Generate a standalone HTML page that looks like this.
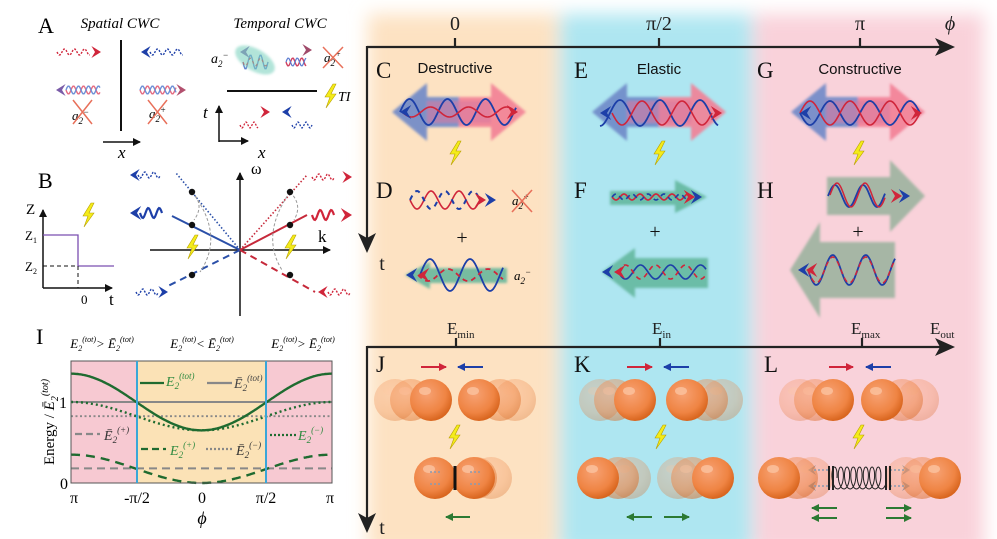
<!DOCTYPE html>
<html><head><meta charset="utf-8">
<style>
html,body{margin:0;padding:0;background:#fff;}
svg{display:block;font-family:"Liberation Serif",serif;}
.it{font-style:italic;}
</style></head>
<body>
<svg id="s" width="997" height="539" viewBox="0 0 997 539" xmlns="http://www.w3.org/2000/svg">
<defs>
<filter id="bl" x="-20%" y="-20%" width="140%" height="140%"><feGaussianBlur stdDeviation="9"/></filter>
<filter id="b2" x="-10%" y="-10%" width="120%" height="120%"><feGaussianBlur stdDeviation="1.3"/></filter>
<g id="bolt"><polygon points="3,-12 -5,1 0,1 -4,12 6,-2 1,-2 6,-12" fill="#f4ec1a" stroke="#b8a000" stroke-width="0.6"/></g>
<radialGradient id="ball" cx="40%" cy="35%" r="65%"><stop offset="0" stop-color="#f7a274"/><stop offset="0.7" stop-color="#ef8443"/><stop offset="1" stop-color="#d9661f"/></radialGradient>
<marker id="ah" markerWidth="8" markerHeight="8" refX="7" refY="4" orient="auto" markerUnits="userSpaceOnUse"><path d="M0,0 L8,4 L0,8 Z" fill="context-stroke"/></marker>
</defs>

<!-- column backgrounds -->
<g filter="url(#bl)">
<rect x="368" y="14" width="190" height="540" fill="#fde2c2"/>
<rect x="560" y="14" width="192" height="540" fill="#aee6f1"/>
<rect x="754" y="14" width="230" height="540" fill="#f9d2da"/>
</g>

<!-- top axis -->
<g stroke="#222" stroke-width="2.2" fill="none">
<path d="M367,47 H940"/><path d="M367,46 V240"/>
<path d="M455,47 V38 M659,47 V38 M860,47 V38"/>
<path d="M367,347 H940"/><path d="M367,346 V522"/>
<path d="M456,347 V338 M660,347 V338 M862,347 V338"/>
</g>
<path d="M955,47 L935,38 L940,47 L935,56 Z" fill="#222"/>
<path d="M367,253 L358,233 L367,238 L376,233 Z" fill="#222"/>
<path d="M955,347 L935,338 L940,347 L935,356 Z" fill="#222"/>
<path d="M367,533 L358,513 L367,518 L376,513 Z" fill="#222"/>
<g font-size="20" text-anchor="middle" fill="#222">
<text x="455" y="30">0</text><text x="659" y="30">π/2</text><text x="860" y="30">π</text>
<text x="950" y="30" class="it">ϕ</text>
<text x="382" y="270">t</text><text x="382" y="534">t</text>
</g>
<g font-size="17" fill="#222">
<text x="447" y="334">E<tspan font-size="11" dy="4">min</tspan></text>
<text x="652" y="334">E<tspan font-size="11" dy="4">in</tspan></text>
<text x="851" y="334">E<tspan font-size="11" dy="4">max</tspan></text>
<text x="930" y="334">E<tspan font-size="11" dy="4">out</tspan></text>
</g>
<g font-size="23" fill="#111">
<text x="376" y="78">C</text><text x="574" y="78">E</text><text x="757" y="78">G</text>
<text x="376" y="198">D</text><text x="574" y="198">F</text><text x="757" y="198">H</text>
<text x="376" y="372">J</text><text x="574" y="372">K</text><text x="764" y="372">L</text>
</g>
<g font-size="15" text-anchor="middle" fill="#111" font-family="Liberation Sans, sans-serif">
<text x="455" y="73">Destructive</text><text x="659" y="74">Elastic</text><text x="860" y="74">Constructive</text>
</g>

<!-- big double arrows -->
<g filter="url(#b2)">
<g id="dbl">
<polygon points="392,112 427,83 427,97 459,97 459,127 427,127 427,141" fill="#6f88c8" opacity="0.9"/>
<polygon points="526,112 491,83 491,97 459,97 459,127 491,127 491,141" fill="#f27f95" opacity="0.9"/>
<rect x="427" y="101" width="64" height="22" fill="#d97aa0" opacity="0.6"/>
</g>
<use href="#dbl" transform="translate(200,0)"/>
<use href="#dbl" transform="translate(399,0)"/>
<!-- green arrows -->
<polygon points="405,275 430,262 430,268 507,268 507,283 430,283 430,289" fill="#5fb59a" opacity="0.85"/>
<polygon points="707,197 675,180 675,191 610,191 610,205 675,205 675,213" fill="#5fb59a" opacity="0.85"/>
<polygon points="602,272 635,248 635,258 708,258 708,288 635,288 635,298" fill="#5fb59a" opacity="0.85"/>
<polygon points="925,196 890,160 890,177 827,177 827,215 890,215 890,232" fill="#a6b6a5"/>
<polygon points="790,270 820,222 820,242 895,242 895,298 820,298 820,318" fill="#a6b6a5"/>
</g>
<g font-size="20" fill="#111" text-anchor="middle"><text x="462" y="244">+</text><text x="655" y="238">+</text><text x="858" y="238">+</text></g>
<text x="514" y="280" font-size="13" class="it">a<tspan font-size="9" dy="4">2</tspan><tspan font-size="9" dy="-9">−</tspan></text>
<text x="512" y="205" font-size="13" class="it">a<tspan font-size="9" dy="4">2</tspan><tspan font-size="9" dy="-9">+</tspan></text>
<path d="M512,190 L532,212 M532,190 L512,212" stroke="#e8705a" stroke-width="1.6"/>

<use href="#bolt" x="455" y="153"/><use href="#bolt" x="659" y="153"/><use href="#bolt" x="858" y="153"/>
<use href="#bolt" x="454" y="437"/><use href="#bolt" x="660" y="437"/><use href="#bolt" x="858" y="437"/>

<g id="waves"></g>

<!-- balls -->
<g id="balls"></g>
<!-- small arrows -->
<g stroke-width="2" fill="none">
<path d="M421,367 H446" stroke="#d0253a" marker-end="url(#ah)"/><path d="M483,367 H458" stroke="#1d3fa8" marker-end="url(#ah)"/>
<path d="M627,367 H652" stroke="#d0253a" marker-end="url(#ah)"/><path d="M689,367 H664" stroke="#1d3fa8" marker-end="url(#ah)"/>
<path d="M829,367 H853" stroke="#d0253a" marker-end="url(#ah)"/><path d="M891,367 H866" stroke="#1d3fa8" marker-end="url(#ah)"/>
<g stroke="#2c7a33">
<path d="M470,517 H446" marker-end="url(#ah)"/>
<path d="M652,517 H627" marker-end="url(#ah)"/><path d="M664,517 H689" marker-end="url(#ah)"/>
<path d="M837,508 H812" marker-end="url(#ah)"/><path d="M837,518 H812" marker-end="url(#ah)"/>
<path d="M886,508 H911" marker-end="url(#ah)"/><path d="M886,518 H911" marker-end="url(#ah)"/>
</g></g>

<!-- ============ Panel A ============ -->
<text x="38" y="33" font-size="22">A</text>
<text x="120" y="28" font-size="15" class="it" text-anchor="middle">Spatial CWC</text>
<text x="280" y="28" font-size="15" class="it" text-anchor="middle">Temporal CWC</text>
<path d="M121,40 V131" stroke="#111" stroke-width="2"/>
<path d="M103,142 H140" stroke="#111" stroke-width="1.5" marker-end="url(#ah)"/>
<text x="118" y="158" font-size="17" class="it">x</text>
<path d="M227,91 H317" stroke="#111" stroke-width="2"/>
<path d="M219,142 V106" stroke="#111" stroke-width="1.5" marker-end="url(#ah)"/>
<path d="M219,141 H248" stroke="#111" stroke-width="1.5" marker-end="url(#ah)"/>
<text x="203" y="118" font-size="17" class="it">t</text><text x="258" y="158" font-size="17" class="it">x</text>
<use href="#bolt" x="330" y="96"/><text x="338" y="101" font-size="14" class="it">TI</text>
<text x="211" y="63" font-size="14" class="it">a<tspan font-size="9" dy="4">2</tspan><tspan font-size="9" dy="-9">−</tspan></text>
<text x="324" y="62" font-size="13" class="it">a<tspan font-size="9" dy="4">2</tspan><tspan font-size="9" dy="-9">+</tspan></text>
<text x="72" y="120" font-size="13" class="it">a<tspan font-size="9" dy="4">2</tspan><tspan font-size="9" dy="-9">−</tspan></text>
<text x="149" y="118" font-size="13" class="it">a<tspan font-size="9" dy="4">2</tspan><tspan font-size="9" dy="-9">+</tspan></text>
<g stroke="#e8705a" stroke-width="1.5">
<path d="M73,100 L92,124 M92,100 L73,124"/><path d="M148,100 L167,124 M167,100 L148,124"/><path d="M323,47 L343,68 M343,47 L323,68"/>
</g>
<ellipse cx="255" cy="60" rx="22" ry="11" fill="#7fd3c0" opacity="0.6" transform="rotate(30 255 60)" filter="url(#b2)"/>

<!-- ============ Panel B ============ -->
<text x="38" y="188" font-size="22">B</text>
<path d="M43,288 V210" stroke="#111" stroke-width="1.5" marker-end="url(#ah)"/>
<path d="M43,288 H112" stroke="#111" stroke-width="1.5" marker-end="url(#ah)"/>
<text x="26" y="214" font-size="15">Z</text>
<text x="25" y="240" font-size="13">Z<tspan font-size="8" dy="3">1</tspan></text>
<text x="25" y="271" font-size="13">Z<tspan font-size="8" dy="3">2</tspan></text>
<path d="M43,235 H78 V266 H114" stroke="#7b4fb0" stroke-width="1.3" fill="none"/>
<path d="M43,266 H78 V288" stroke="#111" stroke-width="1" stroke-dasharray="4,3" fill="none"/>
<text x="81" y="304" font-size="13">0</text><text x="109" y="305" font-size="17">t</text>
<use href="#bolt" x="88" y="215"/>

<path d="M240,316 V173" stroke="#111" stroke-width="1.5" marker-end="url(#ah)"/>
<path d="M150,250 H330" stroke="#111" stroke-width="1.5" marker-end="url(#ah)"/>
<text x="251" y="174" font-size="16">ω</text><text x="318" y="242" font-size="17">k</text>
<g stroke-width="1.6" fill="none">
<path d="M240,250 L176,173" stroke="#2a4fa8" stroke-dasharray="1.5,2"/>
<path d="M240,250 L172,216" stroke="#2a4fa8" stroke-width="2"/>
<path d="M240,250 L168,286" stroke="#2a4fa8" stroke-width="2" stroke-dasharray="7,5"/>
<path d="M240,250 L307,175" stroke="#c6293a" stroke-dasharray="1.5,2"/>
<path d="M240,250 L307,215" stroke="#c6293a" stroke-width="2"/>
<path d="M240,250 L315,292" stroke="#c6293a" stroke-width="2" stroke-dasharray="7,5"/>
<g stroke="#999" stroke-width="1" stroke-dasharray="3,2">
<path d="M192,192 Q205,205 194,220"/><path d="M192,192 Q225,235 200,272"/>
<path d="M290,192 Q303,205 294,220"/><path d="M290,192 Q260,235 282,270"/>
</g></g>
<g fill="#111"><circle cx="192" cy="192" r="3.2"/><circle cx="192" cy="225" r="3.2"/><circle cx="192" cy="275" r="3.2"/>
<circle cx="290" cy="192" r="3.2"/><circle cx="290" cy="225" r="3.2"/><circle cx="290" cy="275" r="3.2"/></g>
<use href="#bolt" x="192" y="247"/><use href="#bolt" x="290" y="247"/>

<!-- ============ Panel I ============ -->
<text x="36" y="344" font-size="22">I</text>
<rect x="71" y="361" width="261" height="122" fill="#f7c9d2"/>
<rect x="137" y="361" width="129" height="122" fill="#fbe2b6"/>
<g id="plot"></g>
<rect x="71" y="361" width="261" height="122" fill="none" stroke="#555" stroke-width="1"/>
<path d="M137,361 V483 M266,361 V483" stroke="#3aa6d8" stroke-width="2"/>
<g font-size="16" text-anchor="middle">
<text x="74" y="503">π</text><text x="137" y="503">-π/2</text><text x="202" y="503">0</text><text x="266" y="503">π/2</text><text x="330" y="503">π</text>
<text x="202" y="524" class="it" font-size="18">ϕ</text>
<text x="63" y="408">1</text><text x="64" y="489">0</text>
</g>
<text transform="translate(54,422) rotate(-90)" font-size="15" text-anchor="middle">Energy / <tspan class="it">Ē</tspan><tspan font-size="10" dy="4" class="it">2</tspan><tspan font-size="10" dy="-10" class="it">(tot)</tspan></text>
<g font-size="13" class="it" text-anchor="middle">
<text x="102" y="348">E<tspan font-size="8" dy="3">2</tspan><tspan font-size="8" dy="-9">(tot)</tspan><tspan dy="6">&gt; Ē</tspan><tspan font-size="8" dy="3">2</tspan><tspan font-size="8" dy="-9">(tot)</tspan></text>
<text x="202" y="348">E<tspan font-size="8" dy="3">2</tspan><tspan font-size="8" dy="-9">(tot)</tspan><tspan dy="6">&lt; Ē</tspan><tspan font-size="8" dy="3">2</tspan><tspan font-size="8" dy="-9">(tot)</tspan></text>
<text x="303" y="348">E<tspan font-size="8" dy="3">2</tspan><tspan font-size="8" dy="-9">(tot)</tspan><tspan dy="6">&gt; Ē</tspan><tspan font-size="8" dy="3">2</tspan><tspan font-size="8" dy="-9">(tot)</tspan></text>
</g>
<g stroke-width="2.2" fill="none">
<path d="M140,383 H164" stroke="#1f6b30"/><path d="M207,383 H232" stroke="#888"/>
<path d="M75,434 H100" stroke="#888" stroke-dasharray="7,4"/>
<path d="M141,449 H166" stroke="#1f6b30" stroke-dasharray="7,4"/>
<path d="M206,449 H232" stroke="#888" stroke-dasharray="2,2"/>
<path d="M270,435 H296" stroke="#1f6b30" stroke-dasharray="2,2"/>
</g>
<g font-size="14" class="it">
<text x="166" y="386" fill="#2f8a40">E<tspan font-size="9" dy="3">2</tspan><tspan font-size="9" dy="-10">(tot)</tspan></text>
<text x="234" y="388" fill="#444">Ē<tspan font-size="9" dy="3">2</tspan><tspan font-size="9" dy="-10">(tot)</tspan></text>
<text x="104" y="440" fill="#333">Ē<tspan font-size="9" dy="3">2</tspan><tspan font-size="9" dy="-10">(+)</tspan></text>
<text x="170" y="455" fill="#2f8a40">E<tspan font-size="9" dy="3">2</tspan><tspan font-size="9" dy="-10">(+)</tspan></text>
<text x="236" y="455" fill="#333">Ē<tspan font-size="9" dy="3">2</tspan><tspan font-size="9" dy="-10">(−)</tspan></text>
<text x="298" y="440" fill="#2f8a40">E<tspan font-size="9" dy="3">2</tspan><tspan font-size="9" dy="-10">(−)</tspan></text>
</g>
</svg>
<script>
var NS="http://www.w3.org/2000/svg";
function el(parent,tag,attrs){var e=document.createElementNS(NS,tag);for(var k in attrs)e.setAttribute(k,attrs[k]);parent.appendChild(e);return e;}
var W=document.getElementById('waves');
function wave(x0,x1,yc,A,per,ph,col,w,dash,arrow){
 var d="";for(var x=x0;x<=x1+0.01;x+=1){var y=yc+A*Math.sin(2*Math.PI*(x-x0)/per+ph);d+=(d?"L":"M")+x.toFixed(1)+","+y.toFixed(1);}
 var a={d:d,stroke:col,"stroke-width":w||1.6,fill:"none"};if(dash)a["stroke-dasharray"]=dash;el(W,'path',a);
}
function head(x,y,dir,col,s){s=s||7;el(W,'path',{d:"M"+x+","+y+" L"+(x-dir*s*1.6)+","+(y-s)+" L"+(x-dir*s)+","+y+" L"+(x-dir*s*1.6)+","+(y+s)+"Z",fill:col});}
var R="#d0253a",B="#1d3fa8";
// C destructive
wave(400,516,112,13,38,Math.PI,B,1.8);wave(402,514,112,5,38,0,R,1.6);head(400,112,-1,B);head(518,112,1,R);
// E elastic
wave(600,718,113,13,40,Math.PI/2,B,1.8);wave(612,712,113,12,40,0,R,1.6);head(600,113,-1,B);head(722,113,1,R);
// G constructive
wave(800,920,113,12,40,0,B,1.8);wave(800,920,113,12,40,Math.PI,R,1.6);head(800,113,-1,B);head(922,113,1,R);
// A spatial waves
wave(57,90,52,3,10,0,R,1.4,"2,1.5");head(101,52,1,R,6);
wave(150,183,52,3,10,0,B,1.4,"2,1.5");head(141,52,-1,B,6);
wave(66,100,90,4,10,0,"#e46a80",1.4);wave(66,100,90,4,10,Math.PI,"#6d90d6",1.4);head(56,90,-1,"#7a5ca8",6);
wave(140,176,90,4,10,0,"#e46a80",1.4);wave(140,176,90,4,10,Math.PI,"#6d90d6",1.4);head(186,90,1,"#b2506e",6);
// B side arrows
wave(138,160,175,3,9,0,B,1.4,"2,1.5");head(130,175,-1,B,6);
wave(140,162,213,5,11,0,B,2.2);head(130,213,-1,B,7);
wave(136,158,292,3,9,0,B,1.4,"2,1.5");head(168,292,1,B,6);
wave(312,334,177,3,9,0,R,1.4,"2,1.5");head(352,177,1,R,6);
wave(312,334,215,5,11,0,R,2.2);head(352,215,1,R,7);
wave(328,350,292,3,9,0,R,1.4,"2,1.5");head(318,292,-1,R,6);
// temporal A incident
wave(240,258,125,3,8,0,R,1.3,"2,1.5");head(270,112,1,R,6);
wave(292,312,125,3,8,0,B,1.3,"2,1.5");head(282,112,-1,B,6);
wave(286,306,62,4,9,0,"#d04060",1.4);wave(286,306,62,4,9,Math.PI,"#5a7ad0",1.2);head(312,50,1,"#a04a6a",6);
wave(243,268,62,7,10,0,"#5a7ad0",1.4);wave(243,268,62,4,10,0,R,1.2,"3,3");head(240,52,-1,"#7a5ca8",6);
// D
wave(410,478,200,9,28,0,R,1.6);wave(410,478,200,9,28,Math.PI,B,2,"5,5");head(486,200,1,R);head(496,200,1,B);
wave(420,503,275,16,40,Math.PI,B,1.8);wave(418,503,275,6,40,0,R,1.8,"5,4");head(406,275,-1,B);head(418,275,-1,R);
// F
wave(612,688,197,3,16,0,R,1.6);wave(612,688,197,3,16,Math.PI,B,1.6,"5,4");head(695,197,1,R);head(702,197,1,B);
wave(618,706,272,7,30,0,B,1.6);wave(618,706,272,7,30,Math.PI,R,1.6,"5,4");head(602,272,-1,B);head(614,272,-1,R);
// H
wave(828,885,196,11,28,Math.PI,B,1.8);wave(830,885,195,12,28,Math.PI,R,1.5);head(902,196,1,R);head(910,196,1,B);
wave(808,895,270,15,33,0,B,1.8);wave(808,895,270,13,33,0,R,1.5,"5,4");head(798,270,-1,B);head(806,270,-1,R);
// balls
var BG=document.getElementById('balls');
function ball(x,y,op){el(BG,'circle',{cx:x,cy:y,r:21,fill:"url(#ball)",opacity:op});el(BG,'ellipse',{cx:x-6,cy:y-9,rx:6,ry:4,fill:"#fbc3a0",opacity:op*0.8});}
function grp(xs,y){for(var i=0;i<xs.length;i++)ball(xs[i][0],y,xs[i][1]);}
grp([[395,.3],[411,.45],[431,1]],400);grp([[515,.3],[500,.45],[479,1]],400);
grp([[491,.3],[476,.45],[474,1],[435,1]],478);
grp([[600,.3],[615,.45],[635,1]],400);grp([[722,.3],[707,.45],[687,1]],400);
grp([[630,.3],[618,.5],[598,1]],478);grp([[678,.3],[692,.5],[713,1]],478);
grp([[800,.3],[815,.45],[833,1]],400);grp([[918,.3],[902,.45],[882,1]],400);
grp([[812,.3],[797,.5],[779,1]],478);grp([[906,.3],[922,.5],[940,1]],478);
el(BG,'path',{d:"M455,466 V490",stroke:"#111","stroke-width":3});
var g2="#8a9ab0";
[[440,472,1],[440,484,1],[470,472,-1],[470,484,-1]].forEach(function(a){el(BG,'path',{d:"M"+(a[0]-a[2]*10)+","+a[1]+" H"+a[0],stroke:g2,"stroke-width":1.5,"stroke-dasharray":"2,2"});head(a[0]+a[2]*5,a[1],a[2],"#7f95b5",4);});
[[812,470,-1],[812,486,-1],[906,470,1],[906,486,1]].forEach(function(a){el(BG,'path',{d:"M"+(a[0]-a[2]*16)+","+a[1]+" H"+a[0],stroke:g2,"stroke-width":1.5,"stroke-dasharray":"2,2"});head(a[0]+a[2]*4,a[1],a[2],"#7f95b5",5);});
var sp="";for(var t=0;t<=1;t+=0.005){var x=833+50*t+4*Math.cos(t*Math.PI*16);var y=478-11*Math.sin(t*Math.PI*16);sp+=(sp?"L":"M")+x.toFixed(1)+","+y.toFixed(1);}
el(BG,'path',{d:sp,stroke:"#222","stroke-width":1,fill:"none"});
el(BG,'path',{d:"M829,466 V490 M833,466 V490 M886,466 V490 M890,466 V490",stroke:"#222","stroke-width":2});
// plot I
var P=document.getElementById('plot');
function X(p){return 71+(p+Math.PI)/(2*Math.PI)*261;}function Y(v){return 483-81*v;}
function curve(f,col,w,dash){var d="";for(var i=0;i<=200;i++){var p=-Math.PI+2*Math.PI*i/200;d+=(d?"L":"M")+X(p).toFixed(1)+","+Y(f(p)).toFixed(1);}var a={d:d,stroke:col,"stroke-width":w,fill:"none"};if(dash)a["stroke-dasharray"]=dash;el(P,'path',a);}
curve(function(){return 1},"#888",2);
curve(function(){return 0.825},"#888",1.8,"2,2.5");
curve(function(){return 0.18},"#888",2,"8,5");
curve(function(p){return 1-0.35*Math.cos(p)},"#1f6b30",2.4);
curve(function(p){return 0.825-0.175*Math.cos(p)},"#1f6b30",2.4,"2,3");
curve(function(p){return 0.175-0.175*Math.cos(p)},"#1f6b30",2.4,"9,6");
</script>
</body></html>
